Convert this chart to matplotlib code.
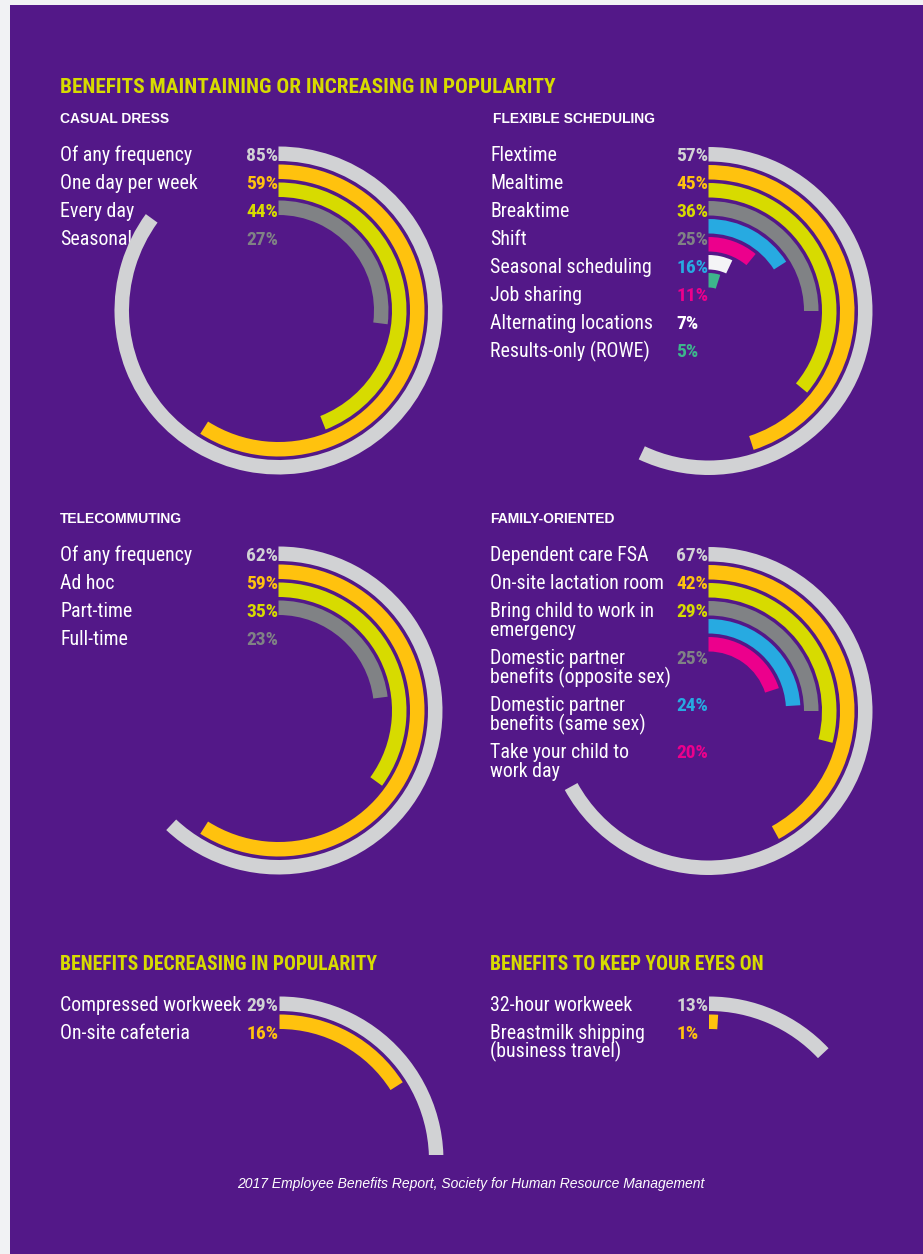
import matplotlib
matplotlib.use("Agg")
import matplotlib.pyplot as plt
from matplotlib import font_manager
from matplotlib.patches import Wedge, Rectangle

W, H = 923, 1254

# ---- data ----
casual_labels = ["Of any frequency", "One day per week", "Every day", "Seasonal"]
casual_values = [85, 59, 44, 27]

flex_labels = ["Flextime", "Mealtime", "Breaktime", "Shift", "Seasonal scheduling",
               "Job sharing", "Alternating locations", "Results-only (ROWE)"]
flex_values = [57, 45, 36, 25, 16, 11, 7, 5]

tele_labels = ["Of any frequency", "Ad hoc", "Part-time", "Full-time"]
tele_values = [62, 59, 35, 23]

family_labels = ["Dependent care FSA", "On-site lactation room",
                 "Bring child to work in\nemergency",
                 "Domestic partner\nbenefits (opposite sex)",
                 "Domestic partner\nbenefits (same sex)",
                 "Take your child to\nwork day"]
family_values = [67, 42, 29, 25, 24, 20]

decreasing_labels = ["Compressed workweek", "On-site cafeteria"]
decreasing_values = [29, 16]

watch_labels = ["32-hour workweek", "Breastmilk shipping\n(business travel)"]
watch_values = [13, 1]

# ---- styling ----
PURPLE = "#531888"
PAGE = "#F1F2F4"
TITLE_COLOR = "#D7DB00"
RING_COLORS = ["#D1D2D4", "#FFC20E", "#D7DB00", "#808285",
               "#27AAE1", "#EC008C", "#F4F4F6", "#3DB58C"]
PCT_COLORS = ["#D1D2D4", "#FFC20E", "#D7DB00", "#808285",
              "#27AAE1", "#EC008C", "#FFFFFF", "#3DB58C"]

SANS = ["Liberation Sans", "DejaVu Sans"]

# pick a narrow face if one is installed, else shrink Liberation Sans to fit
installed = {f.name for f in font_manager.fontManager.ttflist}
NARROW = SANS
SIZES = dict(label=12, pct=11, head=12.6, head2=11.6)
for cand in ["Roboto Condensed", "Liberation Sans Narrow", "Arial Narrow",
             "DejaVu Sans Condensed"]:
    if cand in installed:
        NARROW = [cand] + SANS
        SIZES = dict(label=14.3, pct=14, head=15.3, head2=14.1)
        break

R0, STEP, RING_W = 164, 18, 14.5


def y(py):
    # pixel row (top-down) -> data y (bottom-up)
    return H - py


def draw_panel(ax, labels, values, x_text, x_pct, cx, top, clip_below=None):
    cy = top + R0
    for i, v in enumerate(values):
        w = Wedge((cx, y(cy)), R0 - i * STEP, 90 - 3.6 * v, 90, width=RING_W,
                  facecolor=RING_COLORS[i], linewidth=0, zorder=3)
        ax.add_patch(w)
        if clip_below is not None:
            clip = Rectangle((0, y(clip_below)), W, clip_below,
                             transform=ax.transData, visible=False)
            w.set_clip_path(clip)
    lab_px = SIZES["label"] * 100 / 72
    row = top + 7
    for i, (lab, v) in enumerate(zip(labels, values)):
        lines = lab.split("\n")
        for j, line in enumerate(lines):
            ax.text(x_text, y(row + 19 * j + 0.36 * lab_px), line, color="white",
                    fontsize=SIZES["label"], family=NARROW,
                    ha="left", va="baseline", zorder=2)
        ax.text(x_pct, y(row + 0.36 * lab_px), f"{v}%", color=PCT_COLORS[i],
                fontsize=SIZES["pct"], family=NARROW, fontweight="bold",
                ha="left", va="baseline", zorder=2)
        row += 28 + 19 * (len(lines) - 1)


def main():
    fig = plt.figure(figsize=(W / 100, H / 100), dpi=100, facecolor=PAGE)
    ax = fig.add_axes([0, 0, 1, 1])
    ax.set_xlim(0, W)
    ax.set_ylim(0, H)
    ax.axis("off")
    ax.add_patch(Rectangle((10, 0), W - 10, H - 5, facecolor=PURPLE,
                           linewidth=0, zorder=0))

    head = dict(color=TITLE_COLOR, family=NARROW, fontweight="bold",
                ha="left", va="baseline")
    ax.text(60, y(93), "BENEFITS MAINTAINING OR INCREASING IN POPULARITY",
            fontsize=SIZES["head"], **head)
    ax.text(60, y(970), "BENEFITS DECREASING IN POPULARITY",
            fontsize=SIZES["head2"], **head)
    ax.text(490, y(970), "BENEFITS TO KEEP YOUR EYES ON",
            fontsize=SIZES["head2"], **head)

    sub = dict(color="white", fontsize=10, family=SANS, fontweight="bold",
               ha="left", va="baseline")
    ax.text(60, y(123), "CASUAL DRESS", **sub)
    ax.text(493, y(123), "FLEXIBLE SCHEDULING", **sub)
    ax.text(60, y(523), "TELECOMMUTING", **sub)
    ax.text(490, y(523), "FAMILY-ORIENTED", **sub)

    draw_panel(ax, casual_labels, casual_values, 60, 246, 278.5, 146.5)
    draw_panel(ax, flex_labels, flex_values, 490, 676, 708.5, 147)
    draw_panel(ax, tele_labels, tele_values, 60, 246, 278.5, 546.5)
    draw_panel(ax, family_labels, family_values, 490, 676, 708.5, 547)
    draw_panel(ax, decreasing_labels, decreasing_values, 60, 246, 279.5, 996.5,
               clip_below=1155)
    draw_panel(ax, watch_labels, watch_values, 490, 676, 709, 996.5)

    ax.text(470.5, y(1188),
            "2017 Employee Benefits Report, Society for Human Resource Management",
            color="white", fontsize=10, family=SANS, style="italic",
            ha="center", va="baseline")

    fig.savefig("out.png", dpi=100, facecolor=fig.get_facecolor())


if __name__ == "__main__":
    main()
